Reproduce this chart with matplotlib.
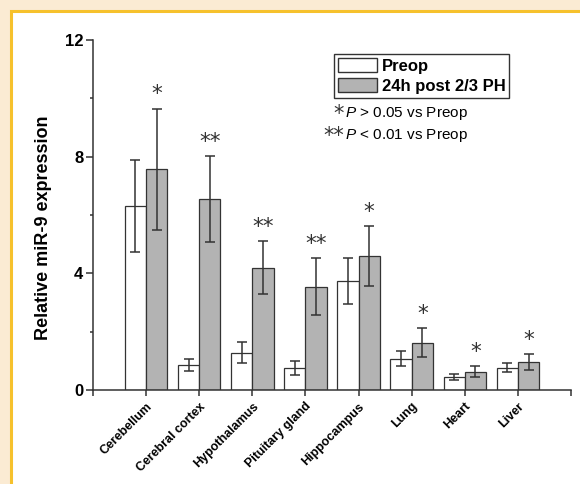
import matplotlib
matplotlib.use('Agg')
import matplotlib.pyplot as plt
from matplotlib.patches import Rectangle, Patch
import numpy as np

categories = ["Cerebellum", "Cerebral cortex", "Hypothalamus", "Pituitary gland",
              "Hippocampus", "Lung", "Heart", "Liver"]
preop = [6.30, 0.86, 1.28, 0.74, 3.74, 1.08, 0.46, 0.76]
preop_err = [1.58, 0.21, 0.37, 0.24, 0.80, 0.27, 0.10, 0.15]
post = [7.57, 6.54, 4.20, 3.54, 4.59, 1.62, 0.62, 0.97]
post_err = [2.07, 1.48, 0.90, 0.98, 1.03, 0.50, 0.19, 0.27]
signif = ["*", "**", "**", "**", "*", "*", "*", "*"]
yticks = [0, 4, 8, 12]
yminor = [2, 6, 10]
series_labels = ["Preop", "24h post 2/3 PH"]
notes = [("*", "$\\mathit{P}$ > 0.05 vs Preop"), ("**", "$\\mathit{P}$ < 0.01 vs Preop")]

plt.rcParams['font.family'] = ['Liberation Sans', 'DejaVu Sans']
plt.rcParams['mathtext.fontset'] = 'custom'
plt.rcParams['mathtext.rm'] = 'Liberation Sans'
plt.rcParams['mathtext.it'] = 'Liberation Sans:italic'

W, H = 580, 484
DARK = '#333333'
GRAY = '#b3b3b3'

fig = plt.figure(figsize=(W / 100, H / 100), dpi=100, facecolor='#FBEBD3')
fig.patches.append(Rectangle((10.5 / W, -0.05), 1.1, 1.05 - 10.5 / H,
                             transform=fig.transFigure, facecolor='white',
                             edgecolor='#F6C12C', linewidth=2.2, zorder=-10))

ax = fig.add_axes([93 / W, 94 / H, (571 - 93) / W, (390 - 40) / H])
ax.set_facecolor('none')
ax.set_zorder(1)

x = np.arange(1, len(categories) + 1)
bw = 0.4
ekw = dict(ecolor=DARK, elinewidth=1.1, capthick=1.1)
ax.bar(x - bw / 2, preop, bw, color='white', edgecolor=DARK, linewidth=0.9,
       yerr=preop_err, capsize=3.5, error_kw=ekw, zorder=2)
ax.bar(x + bw / 2, post, bw, color=GRAY, edgecolor=DARK, linewidth=0.9,
       yerr=post_err, capsize=3.5, error_kw=ekw, zorder=2)

for xi, v, e, s in zip(x, post, post_err, signif):
    ax.annotate(s, (xi + bw / 2, v + e), xytext=(0, 6), textcoords='offset points',
                ha='center', va='baseline', fontsize=15.5, family='DejaVu Sans',
                color=DARK)

ax.set_xlim(0, len(categories) + 1)
ax.set_ylim(0, 12)
for sp in ['top', 'right']:
    ax.spines[sp].set_visible(False)
for sp in ['left', 'bottom']:
    ax.spines[sp].set_color(DARK)
    ax.spines[sp].set_linewidth(1.1)

ax.set_xticks(np.arange(0, len(categories) + 2))
ax.set_xticklabels([''] + categories + [''], rotation=45, ha='right', va='top',
                   rotation_mode='anchor', fontsize=9, fontweight='bold')
ax.set_yticks(yticks)
ax.set_yticklabels([str(t) for t in yticks], fontsize=12, fontweight='bold')
ax.set_yticks(yminor, minor=True)
ax.tick_params(axis='y', which='major', length=5, width=1.1, color=DARK, pad=2)
ax.tick_params(axis='y', which='minor', length=2.5, width=1.1, color=DARK)
ax.tick_params(axis='x', which='major', length=4.5, width=1.1, color=DARK, pad=3)

fig.text(43.5 / W, 1 - 227.5 / H, "Relative miR-9 expression", rotation=90,
         ha='center', va='center', fontsize=13, fontweight='bold')

handles = [Patch(facecolor='white', edgecolor=DARK, linewidth=1.0),
           Patch(facecolor=GRAY, edgecolor=DARK, linewidth=1.0)]
leg = ax.legend(handles, series_labels, loc='upper left',
                bbox_to_anchor=(334 / W, 1 - 54 / H), bbox_transform=fig.transFigure,
                borderaxespad=0, prop=dict(weight='bold', size=12),
                handlelength=2.3, handleheight=0.9, handletextpad=0.3,
                borderpad=0.25, labelspacing=0.25, fancybox=False, framealpha=1)
leg.get_frame().set_edgecolor(DARK)
leg.get_frame().set_linewidth(1.0)

for (st, txt), yp in zip(notes, [113, 136]):
    fig.text(468 / W, 1 - yp / H, txt, ha='right', va='center', fontsize=11)
    fig.text(344 / W, 1 - (yp + 6.5) / H, st, ha='right', va='baseline', fontsize=15,
             family='DejaVu Sans', color=DARK)

fig.savefig('out.png', dpi=100, facecolor=fig.get_facecolor())
